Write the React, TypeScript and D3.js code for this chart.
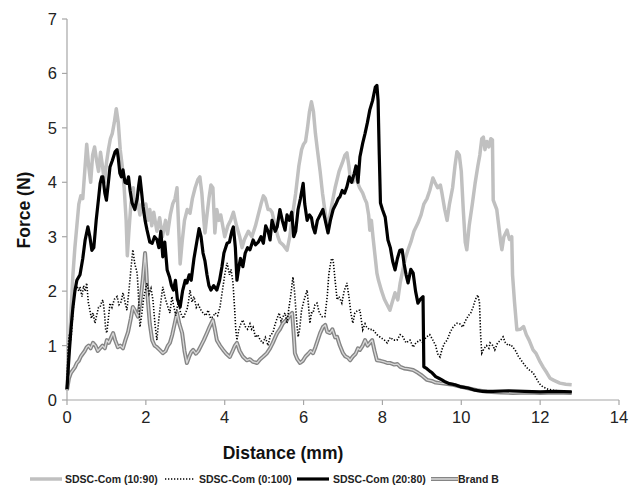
import React from "react";
import * as d3 from "d3";

type P = [number, number];

const xTicks = [0, 2, 4, 6, 8, 10, 12, 14];
const yTicks = [0, 1, 2, 3, 4, 5, 6, 7];

const seriesNames = ["SDSC-Com (10:90)", "SDSC-Com (0:100)", "SDSC-Com (20:80)", "Brand B"];

const s10_90: P[] = [[0,0.2],[0.05,0.9],[0.1,1.6],[0.15,2.3],[0.2,2.8],[0.25,3.2],[0.3,3.6],[0.35,3.75],[0.4,3.7],[0.45,4.2],[0.5,4.7],[0.55,4.3],[0.6,4.0],[0.65,4.5],[0.7,4.65],[0.75,4.4],[0.8,4.2],[0.85,4.55],[0.9,4.3],[0.95,4.0],[1.0,4.35],[1.05,4.6],[1.1,4.8],[1.15,4.9],[1.2,5.1],[1.25,5.35],[1.3,5.1],[1.35,4.6],[1.4,4.3],[1.45,3.9],[1.5,3.3],[1.53,2.65],[1.57,3.1],[1.62,3.6],[1.68,3.9],[1.72,3.5],[1.78,3.7],[1.85,3.4],[1.9,3.6],[1.95,3.45],[2.0,3.6],[2.05,3.3],[2.1,3.5],[2.15,3.2],[2.2,3.45],[2.28,3.1],[2.35,3.35],[2.42,3.0],[2.5,3.3],[2.55,3.05],[2.62,3.4],[2.68,3.6],[2.74,3.7],[2.79,3.9],[2.83,3.2],[2.87,2.5],[2.92,2.9],[2.98,3.3],[3.05,3.5],[3.12,3.43],[3.18,3.7],[3.25,3.9],[3.32,4.05],[3.37,4.1],[3.42,3.8],[3.47,3.3],[3.5,3.07],[3.55,3.4],[3.6,3.7],[3.65,3.95],[3.7,3.9],[3.75,3.07],[3.8,3.5],[3.85,3.3],[3.9,3.4],[4.0,3.0],[4.08,3.2],[4.15,3.3],[4.22,3.45],[4.3,3.2],[4.38,3.0],[4.44,2.8],[4.5,2.95],[4.6,3.1],[4.69,3.0],[4.78,3.2],[4.85,3.4],[4.92,3.6],[4.98,3.75],[5.03,3.7],[5.1,3.5],[5.15,3.5],[5.2,3.45],[5.28,3.2],[5.35,3.0],[5.4,2.9],[5.48,2.85],[5.58,2.75],[5.65,3.0],[5.72,3.4],[5.8,3.8],[5.88,4.3],[5.95,4.6],[6.0,4.7],[6.05,4.75],[6.1,5.0],[6.15,5.3],[6.2,5.48],[6.25,5.3],[6.3,4.9],[6.35,4.6],[6.42,4.2],[6.48,3.8],[6.55,3.43],[6.6,3.2],[6.62,3.12],[6.67,3.4],[6.72,3.6],[6.8,3.9],[6.9,4.2],[6.98,4.35],[7.05,4.5],[7.1,4.54],[7.15,4.3],[7.18,4.1],[7.25,4.0],[7.3,4.1],[7.35,4.04],[7.42,3.9],[7.5,3.8],[7.55,3.7],[7.6,3.62],[7.65,3.4],[7.68,3.12],[7.72,3.3],[7.76,3.0],[7.82,2.6],[7.86,2.33],[7.9,2.2],[7.98,2.0],[8.05,1.85],[8.12,1.75],[8.19,1.65],[8.25,1.8],[8.32,1.97],[8.39,1.84],[8.45,2.15],[8.52,2.4],[8.58,2.6],[8.65,2.76],[8.72,2.9],[8.8,3.1],[8.9,3.25],[8.98,3.4],[9.05,3.6],[9.13,3.7],[9.2,3.85],[9.28,4.08],[9.33,4.0],[9.4,3.9],[9.47,3.95],[9.51,3.8],[9.58,3.5],[9.64,3.3],[9.7,3.6],[9.78,3.9],[9.84,4.3],[9.89,4.56],[9.95,4.5],[10.0,4.2],[10.05,3.5],[10.1,2.9],[10.14,2.76],[10.2,3.2],[10.28,3.6],[10.35,3.98],[10.42,4.3],[10.47,4.5],[10.52,4.8],[10.56,4.83],[10.6,4.6],[10.65,4.75],[10.7,4.65],[10.75,4.8],[10.79,4.78],[10.81,3.67],[10.9,3.5],[10.95,3.2],[11.0,2.9],[11.03,2.76],[11.08,3.0],[11.16,3.12],[11.22,2.95],[11.28,3.0],[11.3,2.3],[11.35,1.8],[11.41,1.29],[11.5,1.3],[11.58,1.35],[11.65,1.2],[11.72,1.1],[11.82,0.92],[11.9,0.85],[12.0,0.7],[12.08,0.6],[12.17,0.5],[12.25,0.4],[12.35,0.36],[12.5,0.31],[12.65,0.29],[12.8,0.28]];

const s0_100: P[] = [[0,0.3],[0.03,1.0],[0.06,1.2],[0.1,1.1],[0.15,1.6],[0.2,2.0],[0.25,2.1],[0.3,2.0],[0.33,2.08],[0.38,1.9],[0.42,2.1],[0.46,2.0],[0.5,2.15],[0.54,1.8],[0.58,1.65],[0.62,1.5],[0.66,1.6],[0.71,1.41],[0.75,1.55],[0.8,1.7],[0.84,1.71],[0.88,1.8],[0.91,1.84],[0.95,1.6],[0.98,1.3],[1.01,1.23],[1.05,1.5],[1.09,1.78],[1.14,1.7],[1.2,1.85],[1.27,1.9],[1.32,1.75],[1.37,1.8],[1.42,1.97],[1.47,1.8],[1.52,1.65],[1.57,2.0],[1.62,2.4],[1.67,2.76],[1.72,2.5],[1.78,2.33],[1.82,1.8],[1.85,1.34],[1.9,1.6],[1.95,1.9],[2.03,2.15],[2.08,1.95],[2.13,2.05],[2.18,1.84],[2.23,1.4],[2.28,1.1],[2.33,1.5],[2.38,1.8],[2.43,2.08],[2.48,1.9],[2.54,1.75],[2.61,1.6],[2.66,1.9],[2.7,1.75],[2.76,1.55],[2.82,1.8],[2.88,1.6],[2.95,1.5],[3.0,1.6],[3.04,1.65],[3.08,1.8],[3.12,2.02],[3.17,1.8],[3.22,1.9],[3.28,1.7],[3.33,1.75],[3.4,1.65],[3.45,1.6],[3.52,1.55],[3.58,1.65],[3.64,1.5],[3.7,1.53],[3.76,1.6],[3.82,1.55],[3.88,1.71],[3.94,2.0],[4.0,2.3],[4.06,2.52],[4.12,2.3],[4.16,2.4],[4.21,2.15],[4.25,1.7],[4.28,1.3],[4.31,1.1],[4.36,1.3],[4.41,1.4],[4.46,1.47],[4.52,1.35],[4.58,1.3],[4.64,1.4],[4.68,1.3],[4.72,1.34],[4.78,1.15],[4.84,1.2],[4.9,1.1],[4.97,1.05],[5.03,1.15],[5.1,1.0],[5.16,1.2],[5.22,1.23],[5.28,1.4],[5.33,1.5],[5.38,1.6],[5.43,1.45],[5.48,1.53],[5.53,1.6],[5.58,1.41],[5.63,1.7],[5.68,1.95],[5.73,2.26],[5.77,2.0],[5.82,1.5],[5.86,1.16],[5.9,1.3],[5.95,1.65],[6.0,1.8],[6.04,1.9],[6.09,2.02],[6.13,1.7],[6.16,1.41],[6.2,1.6],[6.24,1.6],[6.29,1.75],[6.34,1.78],[6.4,1.6],[6.47,1.53],[6.54,1.53],[6.6,1.9],[6.64,2.3],[6.67,2.45],[6.71,2.6],[6.75,2.57],[6.8,2.2],[6.85,1.84],[6.9,1.9],[6.97,1.78],[7.03,2.0],[7.1,2.15],[7.15,1.9],[7.2,1.6],[7.25,1.41],[7.3,1.6],[7.38,1.65],[7.43,1.65],[7.5,1.29],[7.56,1.4],[7.6,1.34],[7.68,1.29],[7.75,1.3],[7.86,1.2],[7.95,1.15],[8.05,1.1],[8.12,1.05],[8.2,1.15],[8.28,1.1],[8.37,1.1],[8.45,1.2],[8.52,1.16],[8.6,1.05],[8.7,1.1],[8.78,0.97],[8.85,1.05],[8.95,1.1],[9.03,1.05],[9.1,1.15],[9.2,1.2],[9.28,1.1],[9.35,1.0],[9.4,0.85],[9.46,0.79],[9.52,0.95],[9.58,1.05],[9.64,1.1],[9.72,1.25],[9.8,1.35],[9.89,1.41],[9.96,1.4],[10.04,1.34],[10.1,1.45],[10.18,1.55],[10.24,1.6],[10.3,1.71],[10.36,1.85],[10.42,1.93],[10.46,1.8],[10.49,1.2],[10.52,0.86],[10.58,0.95],[10.64,1.0],[10.7,0.95],[10.73,1.05],[10.8,1.0],[10.85,0.92],[10.92,1.05],[11.0,1.1],[11.06,1.16],[11.12,1.05],[11.2,1.0],[11.25,1.02],[11.31,0.97],[11.38,0.9],[11.45,0.8],[11.5,0.75],[11.57,0.68],[11.65,0.6],[11.73,0.55],[11.82,0.5],[11.9,0.4],[11.98,0.3],[12.07,0.24],[12.2,0.2],[12.33,0.18],[12.5,0.16],[12.68,0.15],[12.8,0.15]];

const s20_80: P[] = [[0,0.2],[0.05,0.8],[0.1,1.3],[0.15,1.7],[0.2,2.0],[0.25,2.2],[0.33,2.3],[0.4,2.6],[0.46,2.94],[0.53,3.18],[0.58,3.0],[0.63,2.75],[0.68,2.8],[0.74,3.3],[0.8,3.7],[0.84,3.98],[0.88,4.1],[0.91,4.1],[0.96,3.8],[1.0,3.67],[1.05,4.0],[1.09,4.28],[1.15,4.4],[1.22,4.56],[1.27,4.6],[1.3,4.45],[1.34,4.17],[1.38,4.1],[1.42,4.23],[1.47,4.0],[1.52,3.98],[1.56,4.1],[1.6,3.85],[1.65,3.62],[1.72,3.5],[1.78,3.7],[1.82,3.95],[1.85,4.1],[1.88,3.9],[1.93,3.55],[1.98,3.3],[2.03,3.12],[2.1,2.9],[2.16,2.88],[2.22,3.0],[2.28,2.95],[2.33,2.8],[2.38,3.1],[2.43,2.63],[2.48,2.9],[2.54,2.39],[2.6,2.26],[2.65,2.1],[2.7,2.02],[2.75,2.2],[2.8,1.85],[2.87,1.71],[2.93,2.0],[3.0,2.2],[3.04,2.15],[3.1,2.3],[3.15,2.2],[3.22,2.6],[3.3,2.94],[3.35,3.15],[3.4,3.0],[3.45,2.7],[3.5,2.55],[3.55,2.3],[3.6,2.1],[3.65,2.02],[3.72,2.1],[3.8,2.02],[3.87,2.2],[3.93,2.45],[3.98,2.7],[4.06,2.88],[4.12,2.9],[4.18,3.1],[4.22,3.18],[4.27,2.8],[4.31,2.2],[4.36,2.45],[4.4,2.6],[4.46,2.45],[4.52,2.7],[4.58,2.8],[4.64,2.76],[4.72,2.94],[4.78,2.85],[4.85,2.9],[4.92,3.0],[4.98,2.88],[5.04,3.2],[5.1,3.1],[5.15,2.94],[5.2,3.3],[5.28,3.1],[5.33,3.18],[5.4,3.5],[5.46,3.3],[5.53,3.12],[5.58,3.4],[5.64,3.3],[5.7,3.45],[5.75,3.0],[5.8,3.1],[5.86,3.5],[5.92,3.7],[5.99,3.98],[6.03,3.6],[6.09,3.3],[6.15,3.4],[6.2,3.35],[6.24,3.18],[6.29,3.07],[6.35,3.3],[6.42,3.4],[6.49,3.5],[6.55,3.3],[6.62,3.07],[6.68,3.3],[6.75,3.5],[6.82,3.6],[6.88,3.7],[6.92,3.73],[6.98,3.85],[7.04,3.8],[7.1,3.92],[7.16,4.1],[7.22,4.0],[7.28,4.15],[7.33,4.3],[7.38,4.0],[7.43,4.47],[7.5,4.72],[7.56,4.9],[7.62,5.1],[7.68,5.33],[7.75,5.5],[7.82,5.75],[7.86,5.78],[7.89,5.5],[7.92,4.5],[7.95,3.62],[8.0,3.5],[8.07,3.36],[8.14,2.94],[8.2,2.8],[8.26,2.55],[8.32,2.39],[8.38,2.6],[8.44,2.75],[8.5,2.76],[8.55,2.5],[8.6,2.3],[8.65,2.15],[8.72,2.4],[8.78,2.33],[8.84,2.0],[8.9,1.78],[8.96,1.85],[9.03,1.9],[9.05,0.61],[9.12,0.58],[9.2,0.53],[9.26,0.5],[9.35,0.43],[9.43,0.4],[9.51,0.37],[9.6,0.33],[9.7,0.3],[9.84,0.28],[10.0,0.24],[10.17,0.22],[10.35,0.18],[10.52,0.16],[10.8,0.16],[11.2,0.17],[11.6,0.16],[12.0,0.15],[12.4,0.16],[12.8,0.15]];

const brandB: P[] = [[0,0.18],[0.05,0.4],[0.1,0.5],[0.15,0.55],[0.2,0.6],[0.25,0.68],[0.3,0.72],[0.35,0.8],[0.4,0.85],[0.45,0.9],[0.5,0.97],[0.55,1.0],[0.6,0.95],[0.66,1.05],[0.72,1.0],[0.78,0.9],[0.84,0.95],[0.9,1.0],[0.96,0.95],[1.01,1.1],[1.06,1.05],[1.12,1.15],[1.17,1.23],[1.22,1.1],[1.29,0.97],[1.35,1.0],[1.42,0.95],[1.48,1.1],[1.55,1.25],[1.62,1.5],[1.67,1.71],[1.72,1.65],[1.8,1.53],[1.86,1.8],[1.92,2.2],[1.98,2.7],[2.01,2.4],[2.05,1.84],[2.1,1.4],[2.16,1.1],[2.22,1.0],[2.28,0.97],[2.35,0.92],[2.43,0.86],[2.5,0.9],[2.56,1.0],[2.61,1.05],[2.67,1.2],[2.73,1.4],[2.79,1.6],[2.85,1.4],[2.92,1.23],[2.98,0.9],[3.04,0.68],[3.1,0.8],[3.15,0.88],[3.2,0.92],[3.27,0.85],[3.33,0.9],[3.4,1.0],[3.47,1.1],[3.55,1.23],[3.62,1.35],[3.7,1.47],[3.75,1.3],[3.8,1.1],[3.88,1.0],[3.96,0.92],[4.04,0.85],[4.13,0.79],[4.2,0.9],[4.26,1.0],[4.31,1.05],[4.38,0.9],[4.46,0.8],[4.56,0.73],[4.64,0.75],[4.72,0.7],[4.82,0.68],[4.9,0.75],[4.98,0.8],[5.07,0.86],[5.15,0.95],[5.22,1.05],[5.28,1.15],[5.33,1.23],[5.4,1.3],[5.47,1.4],[5.53,1.45],[5.58,1.47],[5.64,1.55],[5.71,1.6],[5.75,1.2],[5.78,0.86],[5.84,0.75],[5.91,0.68],[5.98,0.72],[6.05,0.8],[6.12,0.85],[6.18,0.9],[6.24,0.86],[6.3,0.97],[6.36,1.1],[6.42,1.23],[6.49,1.34],[6.55,1.38],[6.6,1.25],[6.67,1.23],[6.73,1.3],[6.8,1.15],[6.85,1.16],[6.92,1.0],[7.0,0.86],[7.06,0.8],[7.12,0.78],[7.18,0.73],[7.25,0.8],[7.32,0.85],[7.38,0.95],[7.43,0.92],[7.5,1.0],[7.56,1.1],[7.62,1.0],[7.68,1.05],[7.74,1.1],[7.8,0.9],[7.86,0.73],[7.95,0.72],[8.05,0.7],[8.12,0.68],[8.19,0.68],[8.3,0.65],[8.38,0.66],[8.45,0.61],[8.55,0.58],[8.65,0.57],[8.78,0.55],[8.9,0.5],[9.0,0.45],[9.13,0.37],[9.25,0.35],[9.35,0.32],[9.46,0.31],[9.6,0.3],[9.79,0.28],[9.95,0.25],[10.14,0.22],[10.4,0.18],[10.65,0.15],[11.0,0.14],[11.31,0.13],[11.7,0.14],[12.0,0.13],[12.4,0.14],[12.8,0.13]];

const W = 629;
const H = 486;
const FONT = "'Liberation Sans', Arial, sans-serif";

export default function App() {
  const x = d3.scaleLinear().domain([0, 14]).range([67, 619]);
  const y = d3.scaleLinear().domain([0, 7]).range([400, 19]);
  const line = d3.line<P>().x((d) => x(d[0])).y((d) => y(d[1])).curve(d3.curveLinear);
  const axisColor = "#a6a6a6";

  const legendY = 479;
  const legendItems = [
    { x0: 30, x1: 62, tx: 65, name: seriesNames[0], kind: "gray" },
    { x0: 165, x1: 195, tx: 199, name: seriesNames[1], kind: "dot" },
    { x0: 297, x1: 329, tx: 333, name: seriesNames[2], kind: "black" },
    { x0: 431, x1: 458, tx: 458, name: seriesNames[3], kind: "double" },
  ];

  const drawSample = (it: typeof legendItems[number]) => {
    const d = `M${it.x0},${legendY}H${it.x1}`;
    if (it.kind === "gray") return <path d={d} stroke="#c0c0c0" strokeWidth={3.5} fill="none" />;
    if (it.kind === "dot") return <path d={d} stroke="#000" strokeWidth={1.5} strokeDasharray="1.3,1.7" fill="none" />;
    if (it.kind === "black") return <path d={d} stroke="#000" strokeWidth={3.2} fill="none" />;
    return (
      <g>
        <path d={d} stroke="#858585" strokeWidth={4} fill="none" />
        <path d={d} stroke="#e0e0e0" strokeWidth={1.4} fill="none" />
      </g>
    );
  };

  return (
    <svg width={W} height={H} style={{ position: "absolute", left: 0, top: 0, background: "#fff" }} fontFamily={FONT}>
      {/* axes */}
      <line x1={x(0)} x2={x(0)} y1={y(7)} y2={y(0)} stroke={axisColor} strokeWidth={1.2} />
      <line x1={x(0)} x2={x(14)} y1={y(0)} y2={y(0)} stroke={axisColor} strokeWidth={1.2} />
      {yTicks.map((t) => (
        <g key={"y" + t}>
          <line x1={x(0) - 5} x2={x(0)} y1={y(t)} y2={y(t)} stroke={axisColor} strokeWidth={1.2} />
          <text x={57} y={y(t)} dy="0.36em" textAnchor="end" fontSize={16.5} fill="#222">{t}</text>
        </g>
      ))}
      {xTicks.map((t) => (
        <g key={"x" + t}>
          <line x1={x(t)} x2={x(t)} y1={y(0)} y2={y(0) + 5} stroke={axisColor} strokeWidth={1.2} />
          <text x={x(t)} y={423} textAnchor="middle" fontSize={16.5} fill="#222">{t}</text>
        </g>
      ))}
      <text x={283} y={459} textAnchor="middle" fontSize={17.5} fontWeight="bold" fill="#111">Distance (mm)</text>
      <text transform="translate(30,210) rotate(-90)" textAnchor="middle" fontSize={17.5} fontWeight="bold" fill="#111">Force (N)</text>

      {/* series */}
      <path d={line(s10_90) || ""} fill="none" stroke="#c0c0c0" strokeWidth={3.5} strokeLinejoin="round" />
      <path d={line(brandB) || ""} fill="none" stroke="#858585" strokeWidth={4} strokeLinejoin="round" />
      <path d={line(brandB) || ""} fill="none" stroke="#d8d8d8" strokeWidth={1.3} strokeLinejoin="round" />
      <path d={line(s0_100) || ""} fill="none" stroke="#000" strokeWidth={1.6} strokeDasharray="1.3,1.7" />
      <path d={line(s20_80) || ""} fill="none" stroke="#000" strokeWidth={3.2} strokeLinejoin="round" />

      {/* legend */}
      {legendItems.map((it) => (
        <g key={it.name}>
          {drawSample(it)}
          <text x={it.tx} y={legendY} dy="0.36em" fontSize={10.5} fontWeight="bold" fill="#222">{it.name}</text>
        </g>
      ))}
    </svg>
  );
}
